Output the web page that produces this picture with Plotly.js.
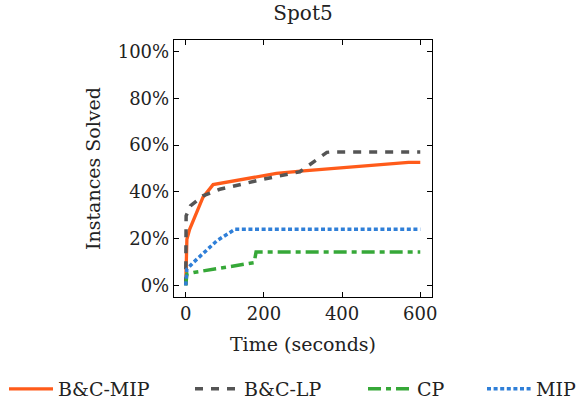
<!DOCTYPE html>
<html>
<head>
<meta charset="utf-8">
<script src="https://cdn.plot.ly/plotly-3.0.1.min.js"></script>
<style>html,body{margin:0;padding:0;background:#fff;}#chart{width:582px;height:401px;}</style>
</head>
<body>
<div id="chart"></div>
<script>
// Data (time in seconds, percent of instances solved)
const bcMipTime = [0, 3, 10, 44, 70, 232, 301, 570, 600];
const bcMipSolved = [0.4, 19.7, 24, 37.6, 43.1, 47.9, 49, 52.6, 52.6];

const bcLpTime = [0, 1, 12, 44, 87, 198, 292, 361, 372, 600];
const bcLpSolved = [0, 29.7, 34, 38.3, 41.1, 45.4, 48.6, 56.9, 57.1, 57.1];

const cpTime = [0, 3, 20, 175, 180, 600];
const cpSolved = [0, 4.8, 5.5, 9.7, 14.3, 14.3];

const mipTime = [0, 3, 19, 62, 79, 126, 600];
const mipSolved = [0, 6.9, 9.7, 16.1, 19, 24, 24];

const seriesNames = ['B&C-MIP', 'B&C-LP', 'CP', 'MIP'];
const xTicks = [0, 200, 400, 600];
const yTicks = [0, 20, 40, 60, 80, 100];

const FONT = 'DejaVu Serif';

const traces = [
  {x: bcMipTime, y: bcMipSolved, name: seriesNames[0], legend: 'legend',
   mode: 'lines', line: {color: '#ff5b1a', width: 3.3}},
  {x: bcLpTime, y: bcLpSolved, name: seriesNames[1], legend: 'legend2',
   mode: 'lines', line: {color: '#555555', width: 3.5, dash: '8px,8px'}},
  {x: cpTime, y: cpSolved, name: seriesNames[2], legend: 'legend3',
   mode: 'lines', line: {color: '#36a838', width: 3.5, dash: '13px,5px,5px,5px'}},
  {x: mipTime, y: mipSolved, name: seriesNames[3], legend: 'legend4',
   mode: 'lines', line: {color: '#2f7fd8', width: 3.5, dash: '4px,2.6px'}}
];

function leg(xpx) {
  return {
    xref: 'container', yref: 'container',
    x: xpx / 582, y: 1 - 389 / 401, xanchor: 'left', yanchor: 'middle',
    orientation: 'h', itemwidth: 44, bgcolor: 'rgba(0,0,0,0)',
    font: {family: FONT, size: 19, color: '#222'}
  };
}

const axisCommon = {
  showgrid: false, zeroline: false, showline: true, linecolor: '#000', linewidth: 1.2,
  mirror: 'allticks', ticks: 'inside', ticklen: 5, tickwidth: 1, tickcolor: '#000',
  tickfont: {family: FONT, size: 18, color: '#222'}
};

const layout = {
  width: 582, height: 401,
  margin: {l: 174, r: 150, t: 40, b: 104},
  paper_bgcolor: '#fff', plot_bgcolor: '#fff',
  font: {family: FONT, color: '#222'},
  title: {text: 'Spot5', font: {family: FONT, size: 20, color: '#222'},
          xref: 'paper', x: 0.5, xanchor: 'center', yref: 'container', y: 1 - 13 / 401, yanchor: 'middle'},
  xaxis: Object.assign({}, axisCommon, {
    range: [-30, 630], tickvals: xTicks, ticktext: xTicks.map(String),
    title: {text: 'Time (seconds)', font: {family: FONT, size: 19, color: '#222'}, standoff: 15}
  }),
  yaxis: Object.assign({}, axisCommon, {
    range: [-5, 105], tickvals: yTicks, ticktext: yTicks.map(v => v + '%'),
    title: {text: 'Instances Solved', font: {family: FONT, size: 19, color: '#222'}, standoff: 12}
  }),
  showlegend: true,
  legend: leg(4), legend2: leg(190), legend3: leg(363), legend4: leg(482)
};

Plotly.newPlot('chart', traces, layout, {displayModeBar: false, staticPlot: true});
</script>
</body>
</html>
